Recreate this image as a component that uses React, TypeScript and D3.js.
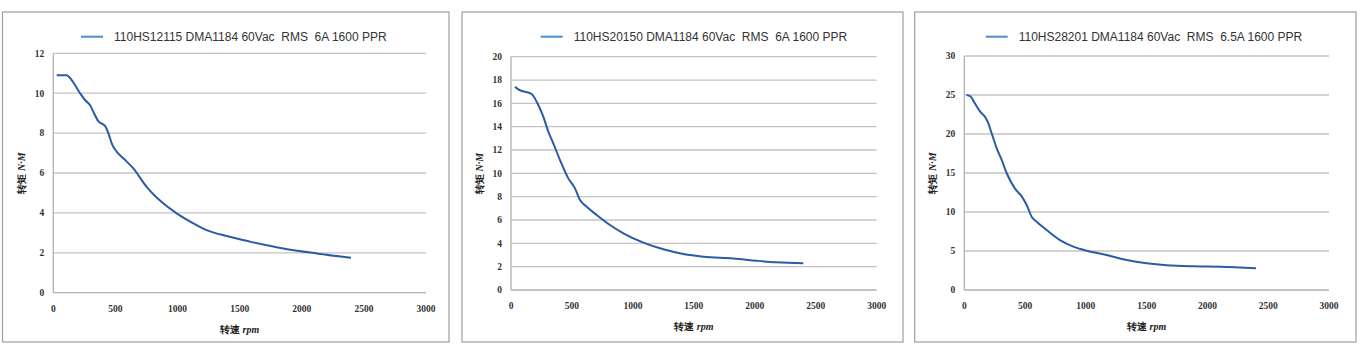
import React from "react";
import * as d3 from "d3";

const rpm1 = [27, 107, 148, 215, 255, 295, 322, 362, 416, 443, 470, 510, 564, 644, 751, 885, 993, 1127, 1234, 1395, 1583, 1851, 2120, 2396];
const torque1 = [10.9, 10.9, 10.66, 10.0, 9.66, 9.41, 9.07, 8.6, 8.36, 8.0, 7.49, 7.07, 6.74, 6.23, 5.31, 4.48, 3.98, 3.48, 3.14, 2.84, 2.56, 2.22, 1.97, 1.75];

const rpm2 = [33, 60, 170, 183, 224, 265, 306, 347, 402, 470, 525, 566, 621, 703, 812, 922, 1086, 1250, 1414, 1578, 1824, 2015, 2179, 2398];
const torque2 = [17.43, 17.2, 16.8, 16.63, 15.86, 14.86, 13.57, 12.57, 11.14, 9.57, 8.71, 7.71, 7.14, 6.43, 5.57, 4.86, 4.06, 3.49, 3.09, 2.86, 2.71, 2.51, 2.37, 2.29];

const rpm3 = [19, 52, 88, 129, 170, 197, 225, 266, 307, 348, 417, 472, 513, 554, 595, 677, 787, 897, 1006, 1171, 1335, 1500, 1664, 1884, 2103, 2399];
const torque3 = [25.0, 24.8, 23.9, 22.9, 22.2, 21.4, 20.1, 18.2, 16.7, 15.0, 13.0, 12.0, 10.9, 9.4, 8.76, 7.7, 6.4, 5.56, 5.04, 4.49, 3.85, 3.42, 3.16, 3.03, 2.99, 2.78];

const xTicks = [0, 500, 1000, 1500, 2000, 2500, 3000];
const yTicks1 = [0, 2, 4, 6, 8, 10, 12];
const yTicks2 = [0, 2, 4, 6, 8, 10, 12, 14, 16, 18, 20];
const yTicks3 = [0, 5, 10, 15, 20, 25, 30];

const legend1 = "110HS12115 DMA1184 60Vac  RMS  6A 1600 PPR";
const legend2 = "110HS20150 DMA1184 60Vac  RMS  6A 1600 PPR";
const legend3 = "110HS28201 DMA1184 60Vac  RMS  6.5A 1600 PPR";

const panels = [
  { rpm: rpm1, torque: torque1, yTicks: yTicks1, yMax: 12, legend: legend1,
    box: [2.5, 12, 449, 342], plot: [53.3, 53.3, 426, 292.7], legX: 81, yTitleX: 21, xTitleY: 329 },
  { rpm: rpm2, torque: torque2, yTicks: yTicks2, yMax: 20, legend: legend2,
    box: [462, 12, 903, 342], plot: [511, 56.7, 876.7, 290], legX: 540.7, yTitleX: 479, xTitleY: 326 },
  { rpm: rpm3, torque: torque3, yTicks: yTicks3, yMax: 30, legend: legend3,
    box: [914.7, 12, 1356, 342], plot: [964.3, 56, 1329, 290], legX: 985.7, yTitleX: 932, xTitleY: 326 },
];

const tickFont = "'Liberation Serif', 'DejaVu Serif', serif";
const sansFont = "'Liberation Sans', Arial, sans-serif";

function Panel({ p }: { p: any }) {
  const [bx0, by0, bx1, by1] = p.box;
  const [px0, py0, px1, py1] = p.plot;
  const x = d3.scaleLinear().domain([0, 3000]).range([px0, px1]);
  const y = d3.scaleLinear().domain([0, p.yMax]).range([py1, py0]);
  const pts: [number, number][] = p.rpm.map((r: number, i: number) => [r, p.torque[i]]);
  const line = d3.line<[number, number]>().x(d => x(d[0])).y(d => y(d[1])).curve(d3.curveMonotoneX);
  const cx = (px0 + px1) / 2;
  const cy = (py0 + py1) / 2;
  return (
    <g>
      <rect x={bx0} y={by0} width={bx1 - bx0} height={by1 - by0} fill="#fff" stroke="#a6a6a6" strokeWidth={1.3} />
      {p.yTicks.map((t: number) => (
        <line key={"g" + t} x1={px0} x2={px1} y1={y(t)} y2={y(t)} stroke={t === 0 ? "#b0b0b0" : "#c4c4c4"} strokeWidth={1.3} />
      ))}
      <line x1={px0} x2={px0} y1={py0} y2={py1} stroke="#b0b0b0" strokeWidth={1.3} />
      {p.yTicks.map((t: number) => (
        <text key={"y" + t} x={px0 - 9} y={y(t)} dy="0.35em" textAnchor="end" fontFamily={tickFont} fontWeight="bold" fontSize={9.5} fill="#333">{t}</text>
      ))}
      {xTicks.map(t => (
        <text key={"x" + t} x={x(t)} y={py1 + 15.5} dy="0.35em" textAnchor="middle" fontFamily={tickFont} fontWeight="bold" fontSize={9.5} fill="#333">{t}</text>
      ))}
      <path d={line(pts) || ""} fill="none" stroke="#2a5ca6" strokeWidth={2} />
      <line x1={p.legX} x2={p.legX + 22} y1={36.7} y2={36.7} stroke="#4a90d0" strokeWidth={2} />
      <text x={p.legX + 33} y={36.7} dy="0.35em" fontFamily={sansFont} fontSize={12} fill="#333" xmlSpace="preserve" style={{ whiteSpace: "pre" }}>{p.legend}</text>
      <text x={cx} y={p.xTitleY} dy="0.35em" textAnchor="middle" fontFamily={tickFont} fontWeight="bold" fontSize={10} fill="#222">
        转速 <tspan fontStyle="italic">rpm</tspan>
      </text>
      <text transform={`translate(${p.yTitleX},${cy}) rotate(-90)`} dy="0.35em" textAnchor="middle" fontFamily={tickFont} fontWeight="bold" fontSize={10} fill="#222">
        转矩 <tspan fontStyle="italic">N·M</tspan>
      </text>
    </g>
  );
}

export default function App() {
  return (
    <svg width={1360} height={357} style={{ position: "fixed", left: 0, top: 0, background: "#fff" }}>
      <rect x={0} y={0} width={1360} height={357} fill="#fff" />
      {panels.map((p, i) => <Panel key={i} p={p} />)}
    </svg>
  );
}
